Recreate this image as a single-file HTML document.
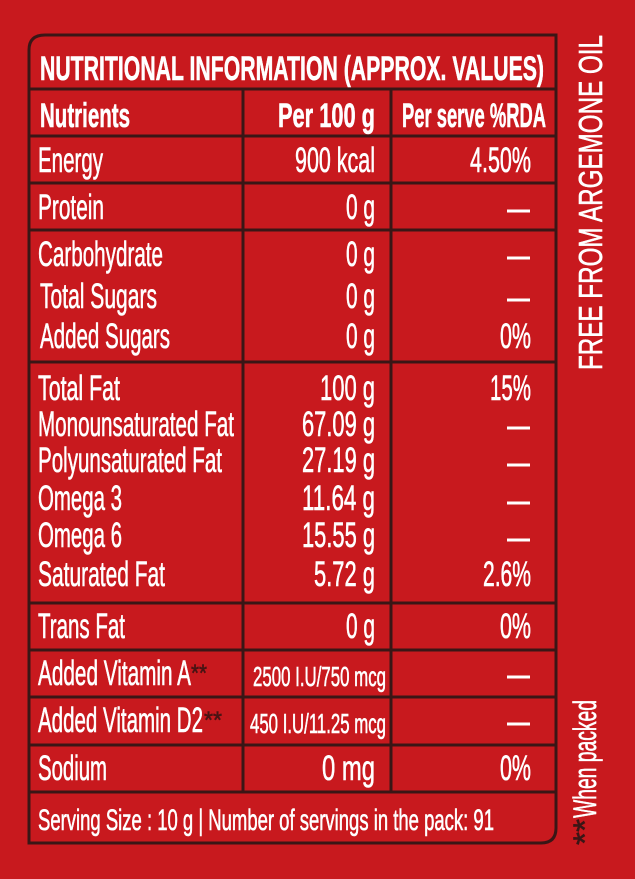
<!DOCTYPE html>
<html><head><meta charset="utf-8"><style>
html,body{margin:0;padding:0;background:#c8191e;}
svg{display:block}
text{font-family:"Liberation Sans",sans-serif;fill:#fff;stroke:#fff;stroke-width:0.6;}
</style></head><body>
<svg width="635" height="879" viewBox="0 0 635 879" xmlns="http://www.w3.org/2000/svg">
<rect width="635" height="879" fill="#c8191e"/>
<g stroke="#3a1616" stroke-width="3" fill="none">
<path d="M45 35 H556 V828 Q556 843 541 843 H29 V50 Q29 35 45 35 Z"/>
<path d="M29 89 H556 M29 136 H556 M29 183 H556 M29 230 H556 M29 362 H556 M29 603 H556 M29 650 H556 M29 697 H556 M29 745 H556 M29 792 H556"/>
<path d="M243 89 V792 M391 89 V792"/>
</g>
<g font-size="35">
<text x="40" y="80" font-size="34" font-weight="bold" textLength="504" lengthAdjust="spacingAndGlyphs">NUTRITIONAL INFORMATION (APPROX. VALUES)</text>
<text x="40" y="127" font-size="34" font-weight="bold" textLength="90" lengthAdjust="spacingAndGlyphs">Nutrients</text>
<text x="278" y="127" font-size="34" font-weight="bold" textLength="97" lengthAdjust="spacingAndGlyphs">Per 100 g</text>
<text x="402" y="127" font-size="34" font-weight="bold" textLength="144" lengthAdjust="spacingAndGlyphs">Per serve %RDA</text>

<text x="38" y="172" textLength="65" lengthAdjust="spacingAndGlyphs">Energy</text>
<text x="295" y="172" textLength="80" lengthAdjust="spacingAndGlyphs">900 kcal</text>
<text x="470" y="172" textLength="61" lengthAdjust="spacingAndGlyphs">4.50%</text>

<text x="38" y="219" textLength="66" lengthAdjust="spacingAndGlyphs">Protein</text>
<text x="346" y="219" textLength="29" lengthAdjust="spacingAndGlyphs">0 g</text>

<text x="38" y="266" textLength="125" lengthAdjust="spacingAndGlyphs">Carbohydrate</text>
<text x="346" y="266" textLength="29" lengthAdjust="spacingAndGlyphs">0 g</text>
<text x="40" y="308" textLength="117" lengthAdjust="spacingAndGlyphs">Total Sugars</text>
<text x="346" y="308" textLength="29" lengthAdjust="spacingAndGlyphs">0 g</text>
<text x="40" y="348" textLength="130" lengthAdjust="spacingAndGlyphs">Added Sugars</text>
<text x="346" y="348" textLength="29" lengthAdjust="spacingAndGlyphs">0 g</text>
<text x="500" y="348" textLength="31" lengthAdjust="spacingAndGlyphs">0%</text>

<text x="38" y="400" textLength="82" lengthAdjust="spacingAndGlyphs">Total Fat</text>
<text x="320" y="400" textLength="55" lengthAdjust="spacingAndGlyphs">100 g</text>
<text x="490" y="400" textLength="41" lengthAdjust="spacingAndGlyphs">15%</text>
<text x="38" y="436" textLength="196" lengthAdjust="spacingAndGlyphs">Monounsaturated Fat</text>
<text x="302" y="436" textLength="73" lengthAdjust="spacingAndGlyphs">67.09 g</text>
<text x="38" y="472" textLength="184" lengthAdjust="spacingAndGlyphs">Polyunsaturated Fat</text>
<text x="302" y="472" textLength="73" lengthAdjust="spacingAndGlyphs">27.19 g</text>
<text x="38" y="510" textLength="84" lengthAdjust="spacingAndGlyphs">Omega 3</text>
<text x="302" y="510" textLength="73" lengthAdjust="spacingAndGlyphs">11.64 g</text>
<text x="38" y="547" textLength="84" lengthAdjust="spacingAndGlyphs">Omega 6</text>
<text x="302" y="547" textLength="73" lengthAdjust="spacingAndGlyphs">15.55 g</text>
<text x="38" y="586" textLength="127" lengthAdjust="spacingAndGlyphs">Saturated Fat</text>
<text x="314" y="586" textLength="61" lengthAdjust="spacingAndGlyphs">5.72 g</text>
<text x="483" y="586" textLength="48" lengthAdjust="spacingAndGlyphs">2.6%</text>

<text x="38" y="638" textLength="87" lengthAdjust="spacingAndGlyphs">Trans Fat</text>
<text x="346" y="638" textLength="29" lengthAdjust="spacingAndGlyphs">0 g</text>
<text x="500" y="638" textLength="31" lengthAdjust="spacingAndGlyphs">0%</text>

<text x="38" y="685" textLength="153" lengthAdjust="spacingAndGlyphs">Added Vitamin A</text>
<text x="191" y="681" font-size="24" textLength="16" lengthAdjust="spacingAndGlyphs" style="fill:#4a1414;stroke:#4a1414">**</text>
<text x="253" y="686" font-size="28" textLength="133" lengthAdjust="spacingAndGlyphs">2500 I.U/750 mcg</text>

<text x="38" y="732" textLength="165" lengthAdjust="spacingAndGlyphs">Added Vitamin D2</text>
<text x="204" y="728" font-size="24" textLength="18" lengthAdjust="spacingAndGlyphs" style="fill:#4a1414;stroke:#4a1414">**</text>
<text x="250" y="733" font-size="28" textLength="136" lengthAdjust="spacingAndGlyphs">450 I.U/11.25 mcg</text>

<text x="38" y="780" textLength="69" lengthAdjust="spacingAndGlyphs">Sodium</text>
<text x="322" y="780" textLength="53" lengthAdjust="spacingAndGlyphs">0 mg</text>
<text x="500" y="780" textLength="31" lengthAdjust="spacingAndGlyphs">0%</text>

<text x="38" y="830" font-size="30" textLength="456" lengthAdjust="spacingAndGlyphs">Serving  Size : 10 g  |  Number of servings in the pack: 91</text>

<text transform="translate(602,370) rotate(-90)" x="0" y="0" font-size="33" textLength="335" lengthAdjust="spacingAndGlyphs">FREE FROM ARGEMONE OIL</text>
<text transform="translate(596,845) rotate(-90)" x="0" y="0" font-size="32" textLength="26" lengthAdjust="spacingAndGlyphs" style="fill:#3a1616;stroke:#3a1616">**</text>
<text transform="translate(596,818) rotate(-90)" x="0" y="0" font-size="32" textLength="118" lengthAdjust="spacingAndGlyphs">When packed</text>
</g>
<g stroke="#fff" stroke-width="3">
<path d="M507 211 H530 M507 258 H530 M507 300 H530 M507 428 H530 M507 465 H530 M507 503 H530 M507 540 H530 M507 677 H530 M507 724 H530"/>
</g>
</svg>
</body></html>
